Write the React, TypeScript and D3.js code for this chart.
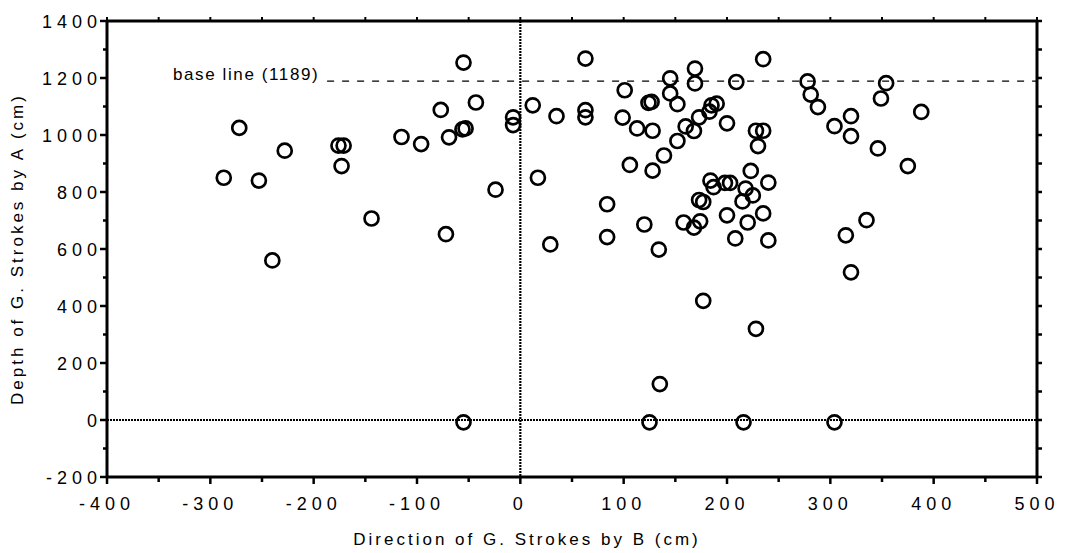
import React from "react";
import * as d3 from "d3";

const xTicks = [-400, -300, -200, -100, 0, 100, 200, 300, 400, 500];
const yTicks = [-200, 0, 200, 400, 600, 800, 1000, 1200, 1400];
const baseLineValue = 1189;
const baseLineLabel = "base line (1189)";
const xTitle = "Direction of G. Strokes by B (cm)";
const yTitle = "Depth of G. Strokes by A (cm)";

// [direction by B, depth by A]
const pointsLeft: [number, number][] = [
  [-287, 850], [-272, 1025], [-253, 840], [-240, 560], [-228, 945],
  [-176, 963], [-171, 963], [-173, 891], [-144, 707], [-115, 993],
  [-96, 968], [-77, 1088], [-69, 992], [-72, 652], [-56, 1020],
  [-53, 1023], [-55, 1254], [-43, 1114], [-24, 808], [-7, 1062],
  [-7, 1035], [-55, -8],
];
const pointsMid: [number, number][] = [
  [12, 1104], [17, 850], [29, 616], [35, 1066], [63, 1268],
  [63, 1087], [63, 1062], [84, 757], [84, 642], [99, 1061],
  [101, 1157], [106, 895], [113, 1023], [120, 686], [124, 1113],
  [127, 1116], [128, 1015], [128, 875], [134, 598], [139, 928],
  [145, 1199], [145, 1146], [152, 1108], [152, 979], [160, 1030],
  [168, 1014], [173, 1062], [169, 1233], [169, 1181], [158, 693],
  [168, 675], [174, 697], [135, 126], [125, -8], [177, 418],
];
const pointsRight: [number, number][] = [
  [183, 1082], [185, 1104], [190, 1110], [200, 1041], [209, 1186],
  [235, 1266], [228, 1015], [235, 1015], [230, 961], [223, 874],
  [240, 833], [184, 840], [198, 832], [203, 832], [187, 817],
  [218, 812], [225, 788], [215, 767], [173, 772], [177, 765],
  [200, 718], [235, 725], [220, 693], [208, 637], [240, 630],
  [228, 320], [216, -8], [278, 1188], [281, 1142], [288, 1098],
  [304, 1031], [320, 1066], [320, 996], [346, 953], [349, 1128],
  [354, 1182], [375, 891], [388, 1081], [335, 701], [315, 648],
  [320, 518], [304, -8],
];

export default function App() {
  const W = 1066;
  const H = 553;
  const left = 107;
  const right = 1037;
  const top = 21;
  const bottom = 477;
  const x = d3.scaleLinear().domain([-400, 500]).range([left, right]);
  const y = d3.scaleLinear().domain([-200, 1400]).range([bottom, top]);
  const all = [...pointsLeft, ...pointsMid, ...pointsRight];
  const xMinor = d3.range(-400, 501, 50);
  const yMinor = d3.range(-200, 1401, 100);
  const font = "'Liberation Sans', Arial, Helvetica, sans-serif";
  return (
    <svg
      width={W}
      height={H}
      style={{ position: "absolute", left: 0, top: 0, background: "#fff" }}
      fontFamily={font}
    >
      <rect x={0} y={0} width={W} height={H} fill="#fff" />
      {/* zero reference lines */}
      <line x1={x(0)} x2={x(0)} y1={top} y2={bottom} stroke="#000" strokeWidth={2.2} strokeDasharray="2,1" />
      <line x1={left} x2={right} y1={y(0)} y2={y(0)} stroke="#000" strokeWidth={2.2} strokeDasharray="2,1" />
      {/* base line */}
      <line
        x1={x(-187)}
        x2={right}
        y1={y(baseLineValue)}
        y2={y(baseLineValue)}
        stroke="#000"
        strokeWidth={1.3}
        strokeDasharray="7,8"
      />
      <text x={173} y={80} fontSize={17} letterSpacing={1.6} fill="#000">
        {baseLineLabel}
      </text>
      {/* frame */}
      <line x1={left} x2={right} y1={top} y2={top} stroke="#000" strokeWidth={3} />
      <line x1={left} x2={right} y1={bottom} y2={bottom} stroke="#000" strokeWidth={3} />
      <line x1={left} x2={left} y1={top} y2={bottom} stroke="#000" strokeWidth={3} />
      <line x1={right} x2={right} y1={top} y2={bottom} stroke="#000" strokeWidth={3} />
      {/* bottom and top ticks */}
      {xMinor.map((v) => (
        <g key={"xt" + v}>
          <line x1={x(v)} x2={x(v)} y1={bottom} y2={bottom + (v % 100 === 0 ? 7 : 5)} stroke="#000" strokeWidth={2.5} />
          <line x1={x(v)} x2={x(v)} y1={top} y2={top - 4} stroke="#000" strokeWidth={2} />
        </g>
      ))}
      {/* left and right ticks */}
      {yMinor.map((v) => (
        <g key={"yt" + v}>
          <line x1={left - (v % 200 === 0 ? 7 : 4)} x2={left} y1={y(v)} y2={y(v)} stroke="#000" strokeWidth={2.5} />
          <line x1={right} x2={right + 5} y1={y(v)} y2={y(v)} stroke="#000" strokeWidth={2.5} />
        </g>
      ))}
      {xTicks.map((v) => (
        <text key={"xl" + v} x={x(v)} y={510} textAnchor="middle" fontSize={18} letterSpacing={5} fill="#000">
          {v}
        </text>
      ))}
      {yTicks.map((v) => (
        <text key={"yl" + v} x={left - 5} y={y(v) + 6.5} textAnchor="end" fontSize={18} letterSpacing={5} fill="#000">
          {v}
        </text>
      ))}
      <text x={527} y={545} textAnchor="middle" fontSize={17} letterSpacing={3} fill="#000">
        {xTitle}
      </text>
      <text
        transform={`translate(23, ${(top + bottom) / 2}) rotate(-90)`}
        textAnchor="middle"
        fontSize={17}
        letterSpacing={3}
        fill="#000"
      >
        {yTitle}
      </text>
      {/* points */}
      {all.map(([a, b], i) => (
        <circle key={i} cx={x(a)} cy={y(b)} r={7} fill="none" stroke="#000" strokeWidth={2.7} />
      ))}
    </svg>
  );
}
